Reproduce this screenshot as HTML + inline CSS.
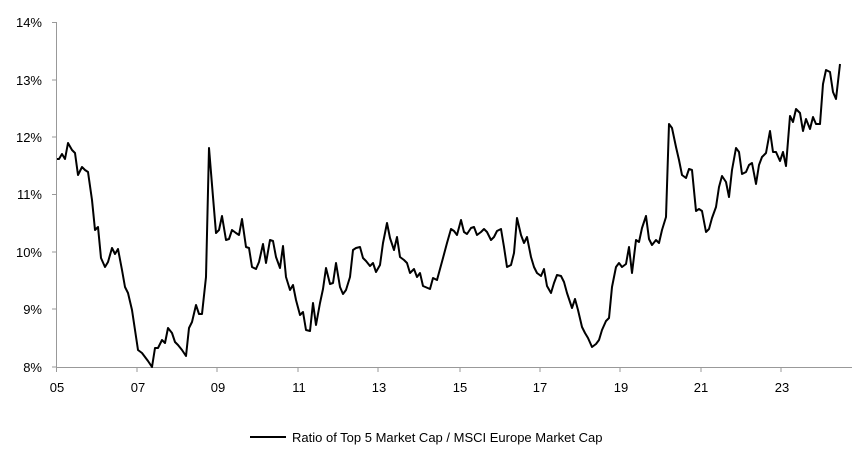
<!DOCTYPE html>
<html><head><meta charset="utf-8"><style>
html,body{margin:0;padding:0;background:#fff;width:852px;height:464px;overflow:hidden}
text{font-family:"Liberation Sans",Arial,sans-serif;font-size:13px;fill:#000}
</style></head><body>
<svg width="852" height="464" viewBox="0 0 852 464" xmlns="http://www.w3.org/2000/svg">
<g stroke="#999" stroke-width="1" fill="none">
<line x1="56.5" y1="22" x2="56.5" y2="367"/>
<line x1="56" y1="367.5" x2="852" y2="367.5"/>
<line x1="52" y1="22.5" x2="56" y2="22.5"/>
<line x1="52" y1="80" x2="56" y2="80"/>
<line x1="52" y1="137" x2="56" y2="137"/>
<line x1="52" y1="194.5" x2="56" y2="194.5"/>
<line x1="52" y1="252" x2="56" y2="252"/>
<line x1="52" y1="309" x2="56" y2="309"/>
<line x1="52" y1="367" x2="56" y2="367"/>
<line x1="56.5" y1="367" x2="56.5" y2="372"/>
<line x1="137" y1="367" x2="137" y2="372"/>
<line x1="217" y1="367" x2="217" y2="372"/>
<line x1="298" y1="367" x2="298" y2="372"/>
<line x1="378" y1="367" x2="378" y2="372"/>
<line x1="460" y1="367" x2="460" y2="372"/>
<line x1="540" y1="367" x2="540" y2="372"/>
<line x1="620" y1="367" x2="620" y2="372"/>
<line x1="701" y1="367" x2="701" y2="372"/>
<line x1="781" y1="367" x2="781" y2="372"/>
</g>
<g text-anchor="end">
<text x="42" y="27">14%</text><text x="42" y="85">13%</text><text x="42" y="142">12%</text>
<text x="42" y="199">11%</text><text x="42" y="257">10%</text><text x="42" y="314">9%</text><text x="42" y="372">8%</text>
</g>
<g text-anchor="middle">
<text x="57" y="392">05</text><text x="138" y="392">07</text><text x="218" y="392">09</text><text x="299" y="392">11</text><text x="379" y="392">13</text>
<text x="460" y="392">15</text><text x="540" y="392">17</text><text x="621" y="392">19</text><text x="701" y="392">21</text><text x="782" y="392">23</text>
</g>
<polyline fill="none" stroke="#000" stroke-width="2" stroke-linejoin="round" points="57,159 59,159 62,154 65,159 68,143 72,150 75,153 78,175 82,167 85,170 88,172 92,200 95,230 98,227 101,258 105,267 108,262 112,248 115,254 118,249 122,270 125,287 128,293 132,310 135,330 138,350 142,353 145,357 148,361 152,367 155,348 158,348 162,340 165,343 168,328 172,333 175,342 178,345 182,350 186,356 189,328 192,322 196,305 199,314 202,314 206,277 209,148 213,197 216,233 219,230 222,216 226,240 229,239 232,230 236,233 239,235 242,219 246,247 249,248 252,267 256,269 259,262 263,244 266,263 270,240 273,241 276,257 280,268 283,246 286,277 290,290 293,285 296,300 300,315 303,312 306,330 310,331 313,303 316,325 320,303 323,289 326,268 330,284 333,283 336,263 340,287 343,294 346,290 350,277 353,250 356,248 360,247 363,258 366,261 370,266 373,263 376,272 380,265 383,243 387,223 390,238 394,250 397,237 400,257 404,260 407,263 410,273 414,269 417,277 420,273 423,286 430,289 433,278 437,280 440,269 443,258 447,243 451,229 454,231 457,235 461,220 464,232 467,234 471,228 474,227 477,235 481,232 484,229 487,232 491,240 494,237 497,231 501,229 504,247 507,267 511,265 514,253 517,218 521,235 524,243 527,237 531,257 534,267 537,273 541,276 544,269 547,286 551,293 554,283 557,275 561,276 564,282 567,293 572,308 575,299 578,310 582,327 585,333 588,338 592,347 596,344 599,340 602,330 606,321 609,318 612,287 616,267 619,263 622,267 626,264 629,247 632,273 636,240 639,242 642,228 646,216 649,239 652,245 656,240 659,243 662,230 666,217 669,124 672,128 676,147 679,160 682,175 686,178 689,169 692,170 696,211 699,209 702,211 706,232 709,229 712,218 716,207 719,187 722,176 726,182 729,197 732,170 736,148 739,152 742,174 746,172 749,165 752,163 756,184 759,165 762,157 766,153 770,131 773,152 776,152 780,161 783,152 786,166 790,116 793,122 796,109 800,113 803,131 806,119 810,129 813,117 816,124 820,124 823,84 826,70 830,72 833,92 836,99 840,64"/>
<line x1="250" y1="437" x2="286" y2="437" stroke="#000" stroke-width="2"/>
<text x="292" y="442">Ratio of Top 5 Market Cap / MSCI Europe Market Cap</text>
</svg>
</body></html>
